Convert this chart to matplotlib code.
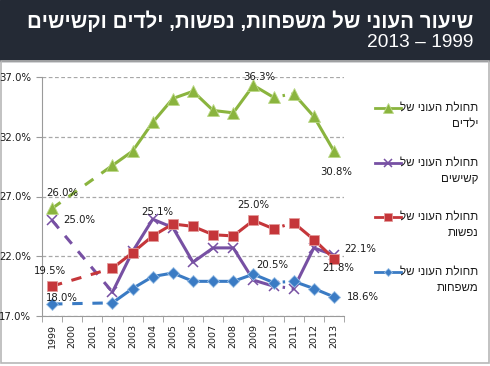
import matplotlib.pyplot as plt
import numpy as np
from matplotlib.lines import Line2D
from matplotlib.patches import Rectangle


def heb(s):
    # matplotlib has no bidi support, so Hebrew goes in visual order
    return s[::-1]


years = [1999, 2000, 2001, 2002, 2003, 2004, 2005, 2006, 2007, 2008, 2009, 2010, 2011, 2012, 2013]
children = [26.0, np.nan, np.nan, 29.6, 30.8, 33.2, 35.2, 35.8, 34.2, 34.0, 36.3, 35.3, 35.6, 33.7, 30.8]
elderly = [25.0, np.nan, np.nan, 19.0, 22.4, 25.1, 24.4, 21.5, 22.7, 22.7, 20.0, 19.5, 19.3, 22.7, 22.1]
persons = [19.5, np.nan, np.nan, 21.0, 22.3, 23.7, 24.7, 24.5, 23.8, 23.7, 25.0, 24.3, 24.8, 23.4, 21.8]
families = [18.0, np.nan, np.nan, 18.1, 19.3, 20.3, 20.6, 19.9, 19.9, 19.9, 20.5, 19.8, 19.9, 19.3, 18.6]

title = "שיעור העוני של משפחות, נפשות, ילדים וקשישים"
subtitle = "2013 – 1999"
legend_first = "תחולת העוני של"
legend_names = ["ילדים", "קשישים", "נפשות", "משפחות"]
yticks = [17, 22, 27, 32, 37]

W, H = 490, 366
fig = plt.figure(figsize=(W / 100, H / 100), dpi=100)
sans = ['Liberation Sans', 'DejaVu Sans']


def fx(px):
    return px / W


def fy(py):
    return 1 - py / H


# header band and frame
fig.add_artist(Rectangle((0, fy(61)), 1, 61 / H, transform=fig.transFigure,
                         color='#242a35', zorder=0))
fig.add_artist(Rectangle((fx(0.5), fy(363)), fx(488.5), (363 - 61) / H,
                         transform=fig.transFigure, fill=False,
                         edgecolor='#b8b8b8', lw=1.2, zorder=0))
fig.text(fx(473), fy(28), heb(title), ha='right', va='baseline', color='white',
         fontsize=14.8, fontweight='bold', family=sans)
fig.text(fx(473), fy(47), subtitle, ha='right', va='baseline', color='white',
         fontsize=13.8, family=sans)

ax = fig.add_axes([fx(42), fy(316), fx(344) - fx(42), (316 - 77) / H])
x = np.arange(len(years))

# values, line colour, marker, size, edge colour, edge width
series = [
    (elderly, '#7750a3', 'x', 7.5, '#7750a3', 1.1),
    (persons, '#c5363a', 's', 7.5, '#e39a9a', 0.6),
    (families, '#3a7bc4', 'D', 6, '#9cc0e6', 0.6),
    (children, '#8ab43e', '^', 9, '#bcd888', 0.6),
]

handles = []
for vals, col, mk, ms, mec, mew in series:
    y = np.array(vals)
    ax.plot(x[[0, 3]], y[[0, 3]], color=col, lw=2.2, ls=(0, (3.4, 3.2)))
    ax.plot(x[3:12], y[3:12], color=col, lw=2.2)
    ax.plot(x[11:13], y[11:13], color=col, lw=2.2, ls=(0, (0.8, 2.2)))
    ax.plot(x[12:], y[12:], color=col, lw=2.2)
    ok = ~np.isnan(y)
    ax.plot(x[ok], y[ok], ls='none', marker=mk, ms=ms, color=col, mec=mec, mew=mew)
    handles.append(Line2D([], [], color=col, lw=2, marker=mk, ms=ms * 0.75,
                          mec=mec, mew=mew))

# data labels: (series, index, dx, dy in pixels, ha, va)
labels = [
    (children, 0, 10, 15, 'center', 'center'),
    (elderly, 0, 11, 0, 'left', 'center'),
    (persons, 0, -2, 15, 'center', 'center'),
    (families, 0, 10, 6, 'center', 'center'),
    (elderly, 5, 5, 7, 'center', 'center'),
    (children, 10, 6, 8, 'center', 'center'),
    (children, 14, 2, -21, 'center', 'center'),
    (persons, 10, 0, 15, 'center', 'center'),
    (families, 10, 19, 9, 'center', 'center'),
    (elderly, 14, 10, 6, 'left', 'center'),
    (persons, 14, 4, -9, 'center', 'center'),
    (families, 14, 13, 0, 'left', 'center'),
]
for vals, i, dx, dy, ha, va in labels:
    ax.annotate(f"{vals[i]:.1f}%", (x[i], vals[i]), xytext=(dx, dy),
                textcoords='offset pixels', ha=ha, va=va, fontsize=7.3,
                color='#1a1a1a', zorder=5)

ax.set_xlim(-0.5, len(years) - 0.5)
ax.set_ylim(17, 37)
ax.set_yticks(yticks)
ax.set_yticklabels([f"{v:.1f}%" for v in yticks], fontsize=7.3, color='#1a1a1a')
ax.set_xticks(x)
ax.set_xticklabels([str(v) for v in years], rotation=90, fontsize=6.8, color='#1a1a1a')
ax.set_xticks(np.arange(-0.5, len(years)), minor=True)
ax.tick_params(axis='x', which='major', length=0, pad=6)
ax.tick_params(axis='x', which='minor', length=4, color='#9a9a9a')
ax.tick_params(axis='y', length=4, color='#9a9a9a', pad=4)
ax.yaxis.grid(True, color='#a8a8a8', lw=0.9, ls=(0, (3, 2)))
ax.set_axisbelow(True)
for side in ['top', 'right']:
    ax.spines[side].set_visible(False)
for side in ['left', 'bottom']:
    ax.spines[side].set_color('#9a9a9a')
ax.patch.set_alpha(0)

# legend, drawn by hand so the Hebrew lines sit right-aligned
leg_y = [108, 163, 217, 272]
order = [3, 0, 1, 2]
for k, py in enumerate(leg_y):
    h = handles[order[k]]
    fig.add_artist(Line2D([fx(375), fx(388), fx(401)], [fy(py)] * 3,
                          transform=fig.transFigure, color=h.get_color(), lw=2,
                          marker=h.get_marker(), markevery=[1], ms=h.get_markersize(),
                          mec=h.get_markeredgecolor(), mew=h.get_markeredgewidth()))
    fig.text(fx(478), fy(py), heb(legend_first), ha='right', va='center',
             fontsize=8.3, family=sans, color='#1a1a1a')
    fig.text(fx(478), fy(py + 16), heb(legend_names[k]), ha='right', va='center',
             fontsize=8.3, family=sans, color='#1a1a1a')

fig.savefig('out.png', dpi=100, facecolor='white')
